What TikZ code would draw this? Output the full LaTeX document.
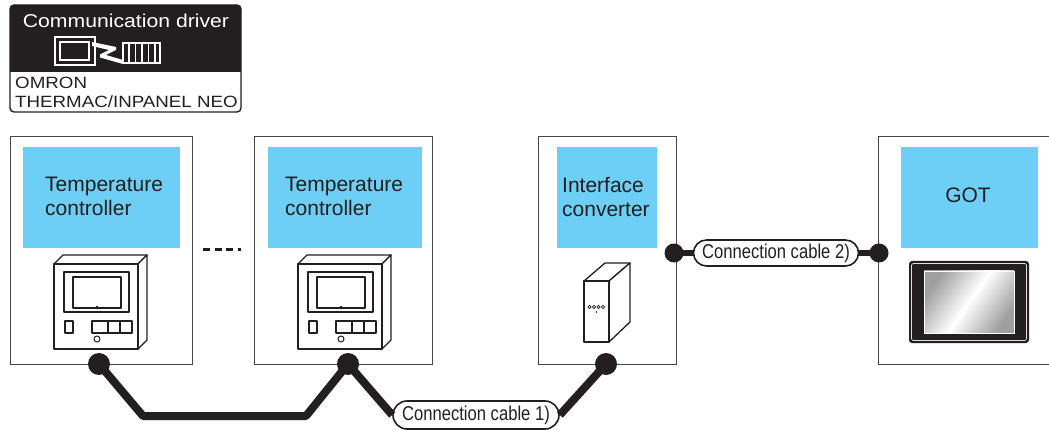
\documentclass[tikz,border=0pt]{standalone}
\usepackage{fontspec}
\setmainfont{Liberation Sans}
\usetikzlibrary{shapes.misc}
\definecolor{ink}{RGB}{35,31,32}
\definecolor{panelblue}{RGB}{109,207,246}
\definecolor{frame}{RGB}{70,70,70}
\newcommand{\narrowtext}[1]{\scalebox{0.83}[1]{\fontsize{20}{24}\selectfont #1}}

\tikzset{
  unitbox/.style={draw=frame, line width=1.2pt, anchor=north west, inner sep=0pt, fill=white},
  bluebox/.style={fill=panelblue, anchor=north west, inner sep=0pt},
  boxlabel/.style={anchor=north west, inner sep=0pt, align=left, text=ink,
    font=\fontsize{21}{24}\selectfont},
  bigdot/.style={circle, fill=ink, inner sep=0pt, minimum size=22pt},
  smalldot/.style={circle, fill=ink, inner sep=0pt, minimum size=19pt},
  cablelabel/.style={rounded rectangle, draw=ink, line width=1.6pt, fill=white,
    inner sep=0pt, text=ink},
  devline/.style={draw=ink, line width=1.3pt, line join=round},
  pics/tempctl/.style={code={
    % housing: top face, right face, front panel
    \draw[devline, fill=white] (0,0) -- (9,-9) -- (93,-9) -- (84,0) -- cycle;
    \draw[devline, fill=white] (84,0) -- (93,-9) -- (93,76) -- (84,85) -- cycle;
    \draw[devline, fill=white, line width=1.6pt] (0,0) rectangle (84,85);
    % display
    \draw[devline] (10,8) rectangle (75,48);
    \draw[devline] (19,13) rectangle (67,44);
    \draw[ink, line width=1.2pt] (43,44) -- (43,41.5);
    % keys and indicator
    \draw[devline] (11,57) rectangle (19,69);
    \draw[devline] (38,57) rectangle (78,69);
    \draw[devline] (54,57) -- (54,69) (66,57) -- (66,69);
    \draw[ink, line width=1pt] (43,75) circle (3);
  }}
}

\begin{document}
\begin{tikzpicture}[x=1pt, y=-1pt]
\clip (0,0) rectangle (1049,430);
\fill[white] (0,0) rectangle (1049,430);

% ---------- communication driver header ----------
\draw[ink, line width=1.4pt, fill=white, rounded corners=4] (10,5) rectangle (241,112);
\fill[ink] (10,72) {[rounded corners=4] -- (10,5) -- (241,5)} -- (241,72) -- cycle;
\node[anchor=base, inner sep=0pt, text=white] (drvtitle) at (126,28)
  {\scalebox{1.14}[1]{\fontsize{18.6}{22}\selectfont Communication driver}};
% driver icon: GOT, link, controller
\draw[white, line width=1.5pt] (55,37) rectangle (95,65);
\draw[white, line width=1.2pt] (60,42) rectangle (89,60);
\fill[white] (92,42) -- (116,47) -- (116,50) -- (106,55) -- (123,60) -- (123,64)
  -- (100,57.5) -- (100,54.5) -- (109,50) -- (92,46) -- cycle;
\draw[white, line width=1.5pt] (123,43) rectangle (160,63);
\foreach \bx in {129,135.5,142,148.5,155} \draw[white, line width=1.4pt] (\bx,43) -- (\bx,63);
\node[anchor=base west, inner sep=0pt, text=ink] (maker) at (15,89)
  {\scalebox{1.15}[1]{\fontsize{16.3}{18}\selectfont OMRON}};
\node[anchor=base west, inner sep=0pt, text=ink] (series) at (15,108)
  {\scalebox{1.15}[1]{\fontsize{16.3}{18}\selectfont THERMAC/INPANEL NEO}};

% ---------- units ----------
\node[unitbox, minimum width=182pt, minimum height=228pt] (tc1) at (10,136) {};
\node[unitbox, minimum width=178pt, minimum height=228pt] (tc2) at (254,136) {};
\node[unitbox, minimum width=138pt, minimum height=228pt] (conv) at (538,136) {};
\node[unitbox, minimum width=190pt, minimum height=228pt] (got) at (878,136) {};

\node[bluebox, minimum width=157pt, minimum height=101pt] (tc1b) at (23,147) {};
\node[bluebox, minimum width=154pt, minimum height=101pt] (tc2b) at (268,147) {};
\node[bluebox, minimum width=100pt, minimum height=101pt] (convb) at (557,147) {};
\node[bluebox, minimum width=137pt, minimum height=101pt] (gotb) at (901,147) {};

\node[boxlabel] (tc1t) at (45,177) {Temperature\\controller};
\node[boxlabel] (tc2t) at (285,177) {Temperature\\controller};
\node[boxlabel] (convt) at (562,177) {Interface\\converter};
\node[anchor=base, inner sep=0pt, text=ink, font=\fontsize{21}{24}\selectfont] (gott) at (968,203) {GOT};

% dashes between the temperature controllers
\draw[ink, line width=3pt, dash pattern=on 7pt off 4.5pt] (203,250) -- (241,250);

% temperature controllers
\pic at (54,264) {tempctl};
\pic at (298,264) {tempctl};

% interface converter
\draw[devline, fill=white] (584,281) -- (605,263) -- (630,263) -- (609,281) -- cycle;
\draw[devline, fill=white] (609,281) -- (630,263) -- (630,322) -- (609,342) -- cycle;
\draw[devline, fill=white] (584,281) rectangle (609,342);
\foreach \dx in {589.5,594,598.5,603} \draw[ink, line width=0.7pt] (\dx,307) circle (1.6);
\fill[ink] (596.5,312) circle (0.9);

% GOT unit
\fill[ink, rounded corners=3] (909,261) rectangle (1029,343);
\draw[white!75!gray, line width=0.7pt, rounded corners=2] (911.5,263.5) rectangle (1026.5,340.5);
\shade[left color=gray!75, right color=gray!75, middle color=white, shading angle=55]
  (924,271) rectangle (1014,333);
\draw[white, line width=0.8pt] (924,271) rectangle (1014,333);

% ---------- connection cable 1) ----------
\node[bigdot] (p1) at (99,364) {};
\node[bigdot] (p2) at (348,364) {};
\node[bigdot] (p3) at (606,364) {};
\coordinate (k1) at (143,416);
\coordinate (k2) at (306,416);
\node[cablelabel, minimum width=166pt, minimum height=28pt] (cab1) at (476,415)
  {\narrowtext{Connection cable 1)}};
\draw[ink, line width=8pt, line join=round] (p1.center) -- (k1) -- (k2) -- (p2.center) -- (cab1.west);
\draw[ink, line width=8pt, line join=round] (cab1.east) -- (p3.center);

% ---------- connection cable 2) ----------
\node[smalldot] (q1) at (674,253) {};
\node[smalldot] (q2) at (879,253) {};
\node[cablelabel, minimum width=165pt, minimum height=26pt] (cab2) at (776,253)
  {\narrowtext{Connection cable 2)}};
\draw[ink, line width=6pt] (q1.center) -- (cab2.west);
\draw[ink, line width=6pt] (cab2.east) -- (q2.center);
\end{tikzpicture}
\end{document}
